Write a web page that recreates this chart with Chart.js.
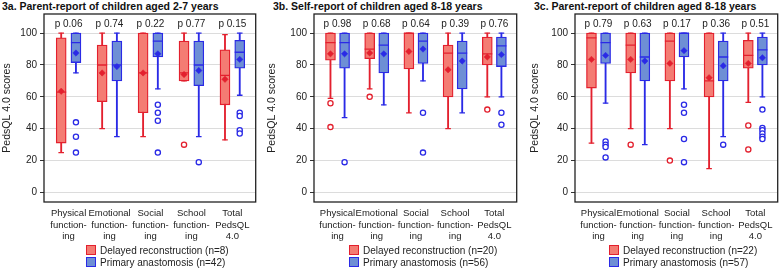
<!DOCTYPE html>
<html>
<head>
<meta charset="utf-8">
<script src="https://cdn.jsdelivr.net/npm/chart.js@4.4.1/dist/chart.umd.min.js"></script>
<style>
body { margin: 0; background: #fff; font-family: "Liberation Sans", Arial, sans-serif; }
#wrap { position: relative; width: 784px; height: 269px; overflow: hidden; }
canvas { position: absolute; top: 0; }
.title { position: absolute; top: 0; font-weight: bold; font-size: 10.5px; color: #111; white-space: nowrap; }
.legend { position: absolute; top: 245px; font-size: 10px; color: #222; line-height: 11.7px; white-space: nowrap; }
.sq { display: inline-block; width: 8px; height: 8px; border: 1.3px solid; vertical-align: -1px; margin-right: 4px; }
</style>
</head>
<body>
<div id="wrap">
  <div class="title" style="left:2px">3a. Parent-report of children aged 2-7 years</div>
  <div class="title" style="left:273px">3b. Self-report of children aged 8-18 years</div>
  <div class="title" style="left:534px">3c. Parent-report of children aged 8-18 years</div>
  <canvas id="g_a" width="262" height="269" style="left:0px"></canvas>
  <canvas id="g_b" width="261" height="269" style="left:262px"></canvas>
  <canvas id="g_c" width="261" height="269" style="left:523px"></canvas>
  <div class="legend" style="left:86px">
    <div><span class="sq" style="background:#f47c73;border-color:#e3202e"></span>Delayed reconstruction (n=8)</div>
    <div><span class="sq" style="background:#6e8fd5;border-color:#2a2ae6"></span>Primary anastomosis (n=42)</div>
  </div>
  <div class="legend" style="left:349px">
    <div><span class="sq" style="background:#f47c73;border-color:#e3202e"></span>Delayed reconstruction (n=20)</div>
    <div><span class="sq" style="background:#6e8fd5;border-color:#2a2ae6"></span>Primary anastomosis (n=56)</div>
  </div>
  <div class="legend" style="left:609px">
    <div><span class="sq" style="background:#f47c73;border-color:#e3202e"></span>Delayed reconstruction (n=22)</div>
    <div><span class="sq" style="background:#6e8fd5;border-color:#2a2ae6"></span>Primary anastomosis (n=57)</div>
  </div>
</div>
<script>
// categories (multi-line tick labels)
const categories = [
    ['Physical', 'function-', 'ing'],
    ['Emotional', 'function-', 'ing'],
    ['Social', 'function-', 'ing'],
    ['School', 'function-', 'ing'],
    ['Total', 'PedsQL', '4.0']
];
const yTicks = [0, 20, 40, 60, 80, 100];

// each box: [min, q1, median, q3, max]
// 3a - parent report 2-7 years
const a_delayed = [[25, 31, 63, 97, 100], [40, 57, 80, 92.5, 100], [35, 50, 75, 100, 100], [70, 70, 75, 95, 100], [33, 55, 73.5, 89.5, 99]];
const a_delayed_mean = [63.5, 75, 75, 74, 71];
const a_delayed_out = [[], [], [], [30], []];
const a_primary = [[75, 81.5, 94, 100, 100], [35, 70, 80, 95, 100], [65, 85, 95, 100, 100], [35, 67, 80, 95, 100], [61, 78, 88, 95.5, 100]];
const a_primary_mean = [87.5, 79, 87, 76.5, 83.5];
const a_primary_out = [[44, 35, 25], [], [55, 50, 45, 25], [19], [50, 48, 39, 37]];
const a_pvalues = ['0.06', '0.74', '0.22', '0.77', '0.15'];

// 3b - self report 8-18 years
const b_delayed = [[59, 83, 94, 100, 100], [65, 84, 90, 100, 100], [50, 77.5, 100, 100, 100], [40, 60, 87.5, 92.5, 100], [60, 80, 87, 97.5, 100]];
const b_delayed_mean = [87, 87.5, 88.5, 77, 85];
const b_delayed_out = [[56, 41], [60], [], [], [52]];
const b_primary = [[47, 78, 94, 100, 100], [55, 75, 92.5, 100, 100], [70, 81, 95, 100, 100], [50, 65, 87.5, 95, 100], [60, 79, 92, 97.5, 100]];
const b_primary_mean = [87, 87, 90, 82.5, 86.5];
const b_primary_out = [[19], [], [50, 25], [], [50, 42.5]];
const b_pvalues = ['0.98', '0.68', '0.64', '0.39', '0.76'];

// 3c - parent report 8-18 years
const c_delayed = [[31, 65.5, 97, 100, 100], [40, 75, 92.5, 100, 100], [40, 70, 95, 100, 100], [15, 60, 70, 100, 100], [56.5, 78, 86, 95.5, 100]];
const c_delayed_mean = [83.5, 83.5, 81, 72, 81];
const c_delayed_out = [[], [30], [20], [], [42, 27]];
const c_primary = [[56, 81, 94, 100, 100], [30, 70, 85, 100, 100], [65, 85, 100, 100, 100], [35, 70, 85, 95, 100], [60, 80, 89.5, 97.5, 100]];
const c_primary_mean = [86, 82.5, 89, 79.5, 84.5];
const c_primary_out = [[32, 30, 28.5, 22], [], [55, 50, 33.5, 19], [30], [52, 40.5, 39, 37, 35, 33.5]];
const c_pvalues = ['0.79', '0.63', '0.17', '0.36', '0.51'];

const redLine = '#e3202e', redFill = '#f47c73';
const blueLine = '#2a2ae6', blueFill = '#6e8fd5';

// builds the datasets of one group (whiskers, box, caps, median, mean, outliers)
function boxDatasets(boxes, means, outs, shift, line, fill) {
    let whisk = [], box = [], caps = [], med = [], mean = [], out = [];
    for (let i = 0; i < boxes.length; i++) {
        let x = i + 1 + shift;
        let b = boxes[i];
        whisk.push({ x: x, y: [b[0], b[4]] });
        box.push({ x: x, y: [b[1], b[3]] });
        caps.push({ x: x, y: b[0] }, { x: x, y: b[4] });
        med.push({ x: x, y: b[2] });
        mean.push({ x: x, y: means[i] });
        outs[i].forEach(v => out.push({ x: x, y: v }));
    }
    return [
        { type: 'bar', data: whisk, grouped: false, barThickness: 1.2, backgroundColor: line, order: 6 },
        { type: 'bar', data: box, grouped: false, barThickness: 10, backgroundColor: fill, borderColor: line, borderWidth: 1.3, borderSkipped: false, order: 5 },
        { type: 'line', data: caps, showLine: false, pointStyle: 'line', pointRadius: 2.8, borderColor: line, borderWidth: 1.3, order: 4 },
        { type: 'line', data: med, showLine: false, pointStyle: 'line', pointRadius: 5, borderColor: line, borderWidth: 1.3, order: 3 },
        { type: 'line', data: mean, showLine: false, pointStyle: 'rectRot', pointRadius: 3.2, backgroundColor: line, borderColor: line, borderWidth: 0.5, order: 2 },
        { type: 'line', data: out, showLine: false, pointStyle: 'circle', pointRadius: 2.6, backgroundColor: '#fff', borderColor: line, borderWidth: 1.3, order: 1 }
    ];
}

// frame round the plot + p values above the boxes
const extras = {
    id: 'extras',
    afterDatasetsDraw(chart, args, opts) {
        let ctx = chart.ctx, area = chart.chartArea;
        let xs = chart.scales.x, ys = chart.scales.y;
        ctx.save();
        ctx.font = '10px "Liberation Sans", Arial, sans-serif';
        ctx.fillStyle = '#222';
        ctx.textAlign = 'center';
        ctx.textBaseline = 'middle';
        opts.pvalues.forEach((p, i) => {
            ctx.fillText('p ' + p, xs.getPixelForValue(i + 1), ys.getPixelForValue(105.5));
        });
        ctx.strokeStyle = '#222';
        ctx.lineWidth = 1.3;
        ctx.strokeRect(area.left, area.top, area.right - area.left, area.bottom - area.top);
        ctx.restore();
    }
};

function makePanel(id, delayed, dMean, dOut, primary, pMean, pOut, pvalues, yWidth, padRight, titlePad) {
    let context = document.getElementById(id).getContext('2d');
    let datasets = boxDatasets(delayed, dMean, dOut, -0.18, redLine, redFill)
        .concat(boxDatasets(primary, pMean, pOut, 0.18, blueLine, blueFill));
    let options = {
        responsive: false,
        animation: false,
        layout: { padding: { top: 14, right: padRight, left: 0, bottom: 0 } },
        plugins: {
            legend: { display: false },
            tooltip: { enabled: false },
            extras: { pvalues: pvalues }
        },
        scales: {
            x: {
                type: 'linear', min: 0.4, max: 5.57, offset: false,
                grid: { display: false, drawTicks: false }, border: { display: false },
                afterBuildTicks: s => { s.ticks = categories.map((c, i) => ({ value: i + 1 })); },
                afterFit: s => { s.height = 67; },
                ticks: {
                    callback: v => categories[v - 1],
                    color: '#222', font: { size: 9.5, lineHeight: 1.2 }, padding: 6,
                    maxRotation: 0, autoSkip: false
                }
            },
            y: {
                min: -6, max: 112,
                afterBuildTicks: s => { s.ticks = yTicks.map(v => ({ value: v })); },
                afterFit: s => { s.width = yWidth; },
                grid: { color: '#dcdcdc', tickColor: '#333', tickLength: 4 },
                border: { display: false },
                ticks: { color: '#222', font: { size: 10 }, padding: 3 },
                title: { display: true, text: 'PedsQL 4.0 scores', color: '#222', font: { size: 10.5 }, padding: { top: titlePad, bottom: 0 } }
            }
        }
    };
    return new Chart(context, { type: 'bar', data: { datasets: datasets }, options: options, plugins: [extras] });
}

Chart.defaults.font.family = '"Liberation Sans", Arial, sans-serif';
makePanel('g_a', a_delayed, a_delayed_mean, a_delayed_out, a_primary, a_primary_mean, a_primary_out, a_pvalues, 44, 1, 1);
makePanel('g_b', b_delayed, b_delayed_mean, b_delayed_out, b_primary, b_primary_mean, b_primary_out, b_pvalues, 52, 1, 4);
makePanel('g_c', c_delayed, c_delayed_mean, c_delayed_out, c_primary, c_primary_mean, c_primary_out, c_pvalues, 52, 2, 6);
</script>
</body>
</html>
